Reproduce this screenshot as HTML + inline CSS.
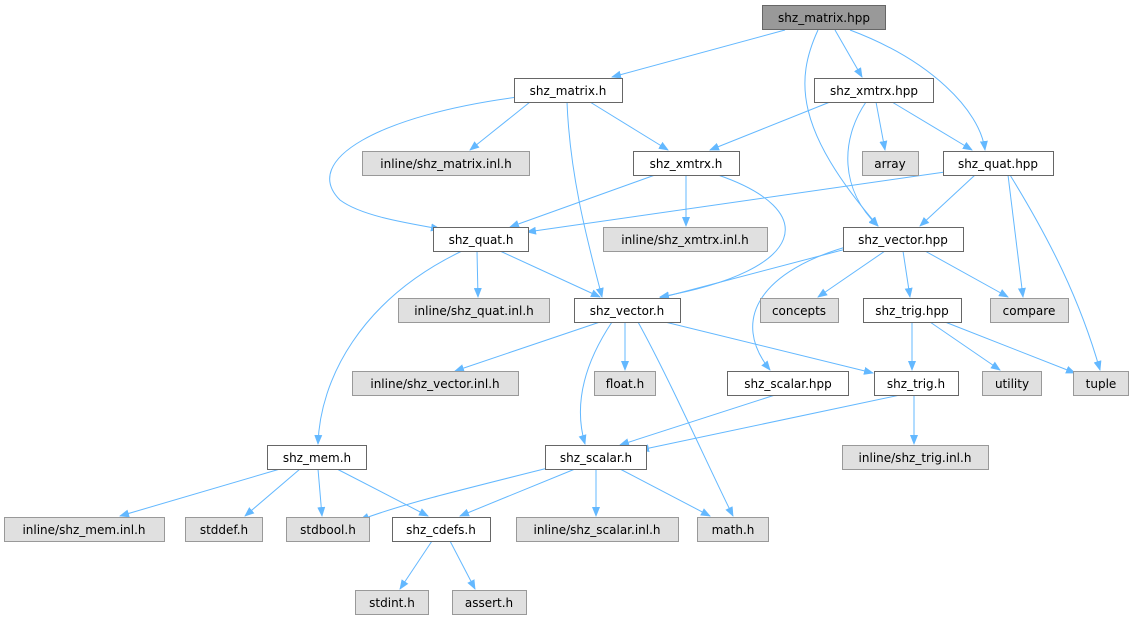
<!DOCTYPE html>
<html><head><meta charset="utf-8"><style>
html,body{margin:0;padding:0;background:#fff;}
svg text{font-family:"DejaVu Sans","Liberation Sans",sans-serif;font-size:12px;fill:#000;text-anchor:middle;}
</style></head><body>
<svg width="1133" height="623" viewBox="0 0 1133 623" xmlns="http://www.w3.org/2000/svg">
<defs><marker id="a" markerWidth="10" markerHeight="8" refX="9" refY="4" orient="auto" markerUnits="userSpaceOnUse"><path d="M0,0 L10,4 L0,8 z" fill="#63b8ff"/></marker></defs>
<g fill="none" stroke="#63b8ff" stroke-width="1" marker-end="url(#a)">
<path d="M785,30 L612,77"/>
<path d="M835,30 L862,77"/>
<path d="M818,30 C795,80 795,130 878,226"/>
<path d="M850,30 C930,60 980,110 985,150"/>
<path d="M530,102 L470,150"/>
<path d="M590,102 L668,150"/>
<path d="M518,97 C380,115 300,160 340,200 C360,215 400,222 440,229"/>
<path d="M567,102 C570,180 590,250 602,297"/>
<path d="M830,102 L710,150"/>
<path d="M876,102 L885,150"/>
<path d="M892,102 L972,150"/>
<path d="M866,102 C840,140 840,190 878,226"/>
<path d="M655,175 L510,227"/>
<path d="M686,175 L686,226"/>
<path d="M718,175 C820,210 810,270 660,297"/>
<path d="M945,172 L527,232"/>
<path d="M975,175 L920,226"/>
<path d="M1008,175 L1023,297"/>
<path d="M1010,175 C1050,240 1080,300 1100,370"/>
<path d="M477,251 L478,297"/>
<path d="M500,251 L600,297"/>
<path d="M462,251 C360,300 320,380 318,444"/>
<path d="M850,248 L660,298"/>
<path d="M885,251 L818,297"/>
<path d="M903,251 L910,297"/>
<path d="M925,251 L1008,297"/>
<path d="M853,245 C760,270 730,320 770,370"/>
<path d="M600,322 L455,371"/>
<path d="M625,322 L625,370"/>
<path d="M665,322 L873,373"/>
<path d="M612,322 C580,370 575,410 585,444"/>
<path d="M638,322 C670,380 710,470 733,516"/>
<path d="M912,322 L912,370"/>
<path d="M930,322 L1000,370"/>
<path d="M945,322 L1075,373"/>
<path d="M775,395 L620,445"/>
<path d="M900,395 L640,450"/>
<path d="M914,395 L914,444"/>
<path d="M280,469 L120,516"/>
<path d="M300,469 L245,516"/>
<path d="M318,469 L322,516"/>
<path d="M337,469 L428,516"/>
<path d="M560,465 C440,495 400,505 360,520"/>
<path d="M575,469 L460,516"/>
<path d="M596,469 L596,516"/>
<path d="M620,469 L710,516"/>
<path d="M432,541 L400,589"/>
<path d="M450,541 L475,589"/>
</g>
<g stroke-width="1">
<rect x="762.5" y="5.5" width="123" height="24" fill="#999999" stroke="#666"/>
<g fill="#fff" stroke="#666">
<rect x="514.5" y="78.5" width="108" height="24"/>
<rect x="814.5" y="78.5" width="119" height="24"/>
<rect x="633.5" y="151.5" width="106" height="24"/>
<rect x="943.5" y="151.5" width="110" height="24"/>
<rect x="433.5" y="227.5" width="95" height="24"/>
<rect x="843.5" y="227.5" width="120" height="24"/>
<rect x="574.5" y="298.5" width="106" height="24"/>
<rect x="863.5" y="298.5" width="98" height="24"/>
<rect x="727.5" y="371.5" width="121" height="24"/>
<rect x="874.5" y="371.5" width="84" height="24"/>
<rect x="267.5" y="445.5" width="99" height="24"/>
<rect x="545.5" y="445.5" width="101" height="24"/>
<rect x="392.5" y="517.5" width="98" height="24"/>
</g>
<g fill="#e0e0e0" stroke="#999">
<rect x="362.5" y="151.5" width="167" height="24"/>
<rect x="862.5" y="151.5" width="56" height="24"/>
<rect x="603.5" y="227.5" width="164" height="24"/>
<rect x="398.5" y="298.5" width="151" height="24"/>
<rect x="760.5" y="298.5" width="78" height="24"/>
<rect x="990.5" y="298.5" width="78" height="24"/>
<rect x="352.5" y="371.5" width="166" height="24"/>
<rect x="594.5" y="371.5" width="61" height="24"/>
<rect x="982.5" y="371.5" width="59" height="24"/>
<rect x="1073.5" y="371.5" width="55" height="24"/>
<rect x="842.5" y="445.5" width="146" height="24"/>
<rect x="4.5" y="517.5" width="160" height="24"/>
<rect x="185.5" y="517.5" width="77" height="24"/>
<rect x="286.5" y="517.5" width="83" height="24"/>
<rect x="516.5" y="517.5" width="162" height="24"/>
<rect x="697.5" y="517.5" width="71" height="24"/>
<rect x="355.5" y="590.5" width="73" height="24"/>
<rect x="452.5" y="590.5" width="74" height="24"/>
</g>
</g>
<g>
<text x="824" y="22">shz_matrix.hpp</text>
<text x="568" y="95">shz_matrix.h</text>
<text x="874" y="95">shz_xmtrx.hpp</text>
<text x="446" y="168">inline/shz_matrix.inl.h</text>
<text x="686" y="168">shz_xmtrx.h</text>
<text x="890" y="168">array</text>
<text x="998" y="168">shz_quat.hpp</text>
<text x="481" y="244">shz_quat.h</text>
<text x="685" y="244">inline/shz_xmtrx.inl.h</text>
<text x="903" y="244">shz_vector.hpp</text>
<text x="474" y="315">inline/shz_quat.inl.h</text>
<text x="627" y="315">shz_vector.h</text>
<text x="799" y="315">concepts</text>
<text x="912" y="315">shz_trig.hpp</text>
<text x="1029" y="315">compare</text>
<text x="435" y="388">inline/shz_vector.inl.h</text>
<text x="625" y="388">float.h</text>
<text x="788" y="388">shz_scalar.hpp</text>
<text x="916" y="388">shz_trig.h</text>
<text x="1012" y="388">utility</text>
<text x="1101" y="388">tuple</text>
<text x="317" y="462">shz_mem.h</text>
<text x="596" y="462">shz_scalar.h</text>
<text x="915" y="462">inline/shz_trig.inl.h</text>
<text x="84" y="534">inline/shz_mem.inl.h</text>
<text x="224" y="534">stddef.h</text>
<text x="328" y="534">stdbool.h</text>
<text x="441" y="534">shz_cdefs.h</text>
<text x="597" y="534">inline/shz_scalar.inl.h</text>
<text x="733" y="534">math.h</text>
<text x="392" y="607">stdint.h</text>
<text x="489" y="607">assert.h</text>
</g>
</svg>
</body></html>
